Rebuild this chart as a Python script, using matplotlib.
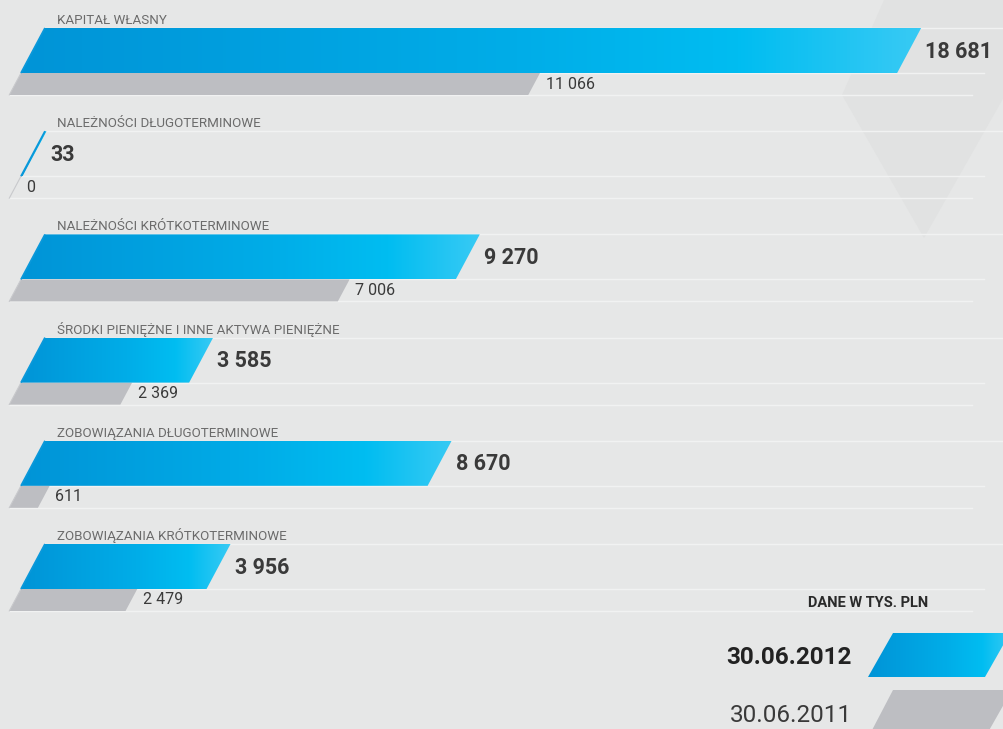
import numpy as np
import matplotlib
matplotlib.use("Agg")
import matplotlib.pyplot as plt
from matplotlib.patches import Polygon
from matplotlib.colors import LinearSegmentedColormap
from matplotlib import font_manager

# ---------------- data ----------------
categories = [
    "KAPITAŁ WŁASNY",
    "NALEŻNOŚCI DŁUGOTERMINOWE",
    "NALEŻNOŚCI KRÓTKOTERMINOWE",
    "ŚRODKI PIENIĘŻNE I INNE AKTYWA PIENIĘŻNE",
    "ZOBOWIĄZANIA DŁUGOTERMINOWE",
    "ZOBOWIĄZANIA KRÓTKOTERMINOWE",
]
values_2012 = [18681, 33, 9270, 3585, 8670, 3956]
values_2011 = [11066, 0, 7006, 2369, 611, 2479]
series_labels = ["30.06.2012", "30.06.2011"]
unit_label = "DANE W TYS. PLN"

# ---------------- fonts ----------------
plt.rcParams["font.family"] = ["Roboto", "DejaVu Sans"]

# ---------------- layout (pixels) ----------------
W, H = 1004, 729
SCALE = 0.0469         # pixels per thousand PLN
X0_PX = 21             # pixel position of value 0 (bottom-left of blue bar)
ROW0, ROW_STEP = 28, 103.2
HB, HG = 45, 22        # blue / gray bar heights
SLANT = 24 / 45        # horizontal px per vertical px

BG = "#e6e7e7"
LINE = "#f1f2f2"
GRAY = "#bdbec2"
blue_cmap = LinearSegmentedColormap.from_list(
    "b", [(0, "#0094d7"), (0.55, "#00ade8"), (0.8, "#00bdf1"), (1.0, "#38caf4")])

fig = plt.figure(figsize=(W / 100, H / 100), dpi=100, facecolor=BG)
ax = fig.add_axes([0, 0, 1, 1])
ax.set_facecolor(BG)
xmin = -X0_PX / SCALE
ax.set_xlim(xmin, xmin + W / SCALE)
ax.set_ylim(H, 0)
ax.axis("off")


def px(p):
    """pixel x -> data x"""
    return xmin + p / SCALE


k = SLANT / SCALE      # data units of x per vertical pixel

# watermark triangle
ax.add_patch(Polygon([(px(884), 0), (px(1004), 0), (px(1004), 97),
                      (px(924), 238), (px(842), 95)],
                     closed=True, facecolor="#e1e2e2", edgecolor="none", zorder=0.5))


def grad_poly(verts, zorder=3):
    poly = Polygon(verts, closed=True, facecolor="none", edgecolor="none", zorder=zorder)
    ax.add_patch(poly)
    xs = [v[0] for v in verts]
    ys = [v[1] for v in verts]
    grad = np.linspace(0, 1, 256).reshape(1, -1)
    im = ax.imshow(grad, cmap=blue_cmap, aspect="auto",
                   extent=(min(xs), max(xs), max(ys), min(ys)), zorder=zorder,
                   interpolation="bilinear")
    im.set_clip_path(poly)
    return poly


for i, (cat, v1, v0) in enumerate(zip(categories, values_2012, values_2011)):
    top = ROW0 + i * ROW_STEP
    yb = top + HB
    yg = yb + HG
    # guide lines
    ax.plot([HB * k, px(1004)], [top, top], color=LINE, lw=1, zorder=1)
    ax.plot([0, px(984)], [yb, yb], color=LINE, lw=1, zorder=1)
    ax.plot([-HG * k, px(972)], [yg, yg], color=LINE, lw=1, zorder=1)

    # blue bar (2012)
    verts = [(0, yb), (v1, yb), (v1 + HB * k, top), (HB * k, top)]
    grad_poly(verts)
    ax.plot([0, HB * k], [yb, top], color="#0a98da", lw=1.3, zorder=3.1,
            solid_capstyle="butt")

    # gray bar (2011)
    gverts = [(-HG * k, yg), (v0 - HG * k, yg), (v0, yb), (0, yb)]
    ax.add_patch(Polygon(gverts, closed=True, facecolor=GRAY, edgecolor="none", zorder=2))
    ax.plot([-HG * k, 0], [yg, yb], color="#c8c9cc", lw=0.8, zorder=2.1)

    # texts
    ax.text(px(57), top - 4, cat, fontsize=9.6, color="#6b6b6b",
            va="baseline", ha="left", zorder=5)
    ax.annotate(f"{v1:,}".replace(",", " "), xy=(v1 + HB * k, top + HB / 2 + 1),
                xytext=(3, 0), textcoords="offset points", fontsize=15.5,
                fontweight="bold", color="#3a3a3a", va="center", ha="left", zorder=5)
    ax.annotate(f"{v0:,}".replace(",", " "), xy=(v0, yb + HG / 2),
                xytext=(4, 0), textcoords="offset points", fontsize=11.5,
                color="#3a3a3a", va="center", ha="left", zorder=5)

# ---------------- legend ----------------
ax.text(px(868), 603, unit_label, fontsize=10.5, fontweight="bold",
        color="#2a2a2a", ha="center", va="center", zorder=5)

lb_top, lb_bot = 633, 677
grad_poly([(px(868), lb_bot), (px(985), lb_bot), (px(1010), lb_top), (px(893), lb_top)])
ax.add_patch(Polygon([(px(870), 734), (px(987), 734), (px(1012), 690), (px(893), 690)],
                     closed=True, facecolor=GRAY, edgecolor="none", zorder=2))
ax.text(px(852), 657, series_labels[0], fontsize=17.5, fontweight="bold",
        color="#222222", ha="right", va="center", zorder=5)
ax.text(px(852), 715, series_labels[1], fontsize=17.5,
        color="#3a3a3a", ha="right", va="center", zorder=5)

fig.savefig("out.png", dpi=100, facecolor=BG)
